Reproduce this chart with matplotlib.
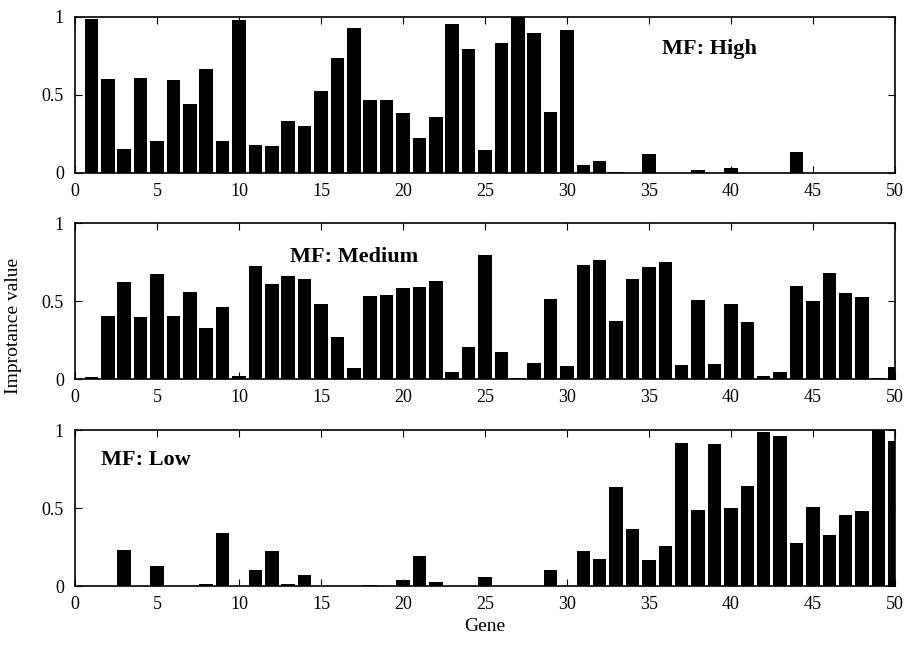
import numpy as np
import matplotlib.pyplot as plt

plt.rcParams['font.family'] = ['Liberation Serif', 'DejaVu Serif']

genes = np.arange(1, 51)

high = [0.985, 0.60, 0.152, 0.607, 0.207, 0.598, 0.444, 0.667, 0.203, 0.979,
        0.179, 0.171, 0.333, 0.301, 0.524, 0.735, 0.929, 0.468, 0.468, 0.385,
        0.226, 0.357, 0.957, 0.797, 0.147, 0.831, 1.0, 0.897, 0.389, 0.915,
        0.053, 0.075, 0.005, 0.0, 0.122, 0.0, 0.0, 0.017, 0.0, 0.03,
        0.0, 0.0, 0.0, 0.135, 0.0, 0.0, 0.0, 0.0, 0.0, 0.0]

medium = [0.015, 0.401, 0.622, 0.395, 0.674, 0.406, 0.558, 0.330, 0.461, 0.021,
          0.725, 0.612, 0.663, 0.639, 0.479, 0.268, 0.073, 0.534, 0.539, 0.582,
          0.588, 0.627, 0.045, 0.204, 0.798, 0.172, 0.006, 0.103, 0.515, 0.086,
          0.732, 0.762, 0.371, 0.642, 0.717, 0.751, 0.088, 0.504, 0.097, 0.479,
          0.367, 0.019, 0.047, 0.599, 0.50, 0.682, 0.554, 0.528, 0.004, 0.075]

low = [0.0, 0.0, 0.231, 0.0, 0.128, 0.0, 0.0, 0.01, 0.343, 0.0,
       0.103, 0.227, 0.013, 0.068, 0.0, 0.0, 0.0, 0.005, 0.0, 0.041,
       0.195, 0.024, 0.0, 0.0, 0.06, 0.0, 0.0, 0.0, 0.103, 0.0,
       0.223, 0.171, 0.632, 0.368, 0.169, 0.255, 0.919, 0.488, 0.91, 0.501,
       0.640, 0.987, 0.961, 0.274, 0.505, 0.325, 0.454, 0.48, 1.0, 0.929]

panels = [(high, "MF: High", 35.8), (medium, "MF: Medium", 13.1), (low, "MF: Low", 1.6)]
label_y = [0.795, 0.784, 0.808]
bottoms = [0.7343, 0.4178, 0.0998]

fig = plt.figure(figsize=(9.06, 6.51), dpi=100)

for (vals, name, tx), ty, b in zip(panels, label_y, bottoms):
    ax = fig.add_axes([0.0828, b, 0.905, 0.2396])
    ax.bar(genes, vals, width=0.82, color='black', edgecolor='none')
    ax.set_xlim(0, 50)
    ax.set_ylim(0, 1)
    ax.set_xticks(np.arange(0, 51, 5))
    ax.set_yticks([0, 0.5, 1])
    ax.set_yticklabels(['0', '0.5', '1'])
    ax.tick_params(direction='in', top=True, right=True, length=5, labelsize=13)
    ax.tick_params(axis='x', pad=7)
    ax.tick_params(axis='y', pad=8)
    for s in ax.spines.values():
        s.set_linewidth(1.2)
    ax.text(tx, ty, name, fontsize=16, fontweight='bold', va='center', ha='left')

fig.text(0.015, 0.5, "Improtance value", rotation=90, va='center', ha='center', fontsize=14)
fig.text(0.535, 0.038, "Gene", va='center', ha='center', fontsize=14)

fig.savefig("out.png", dpi=100)
